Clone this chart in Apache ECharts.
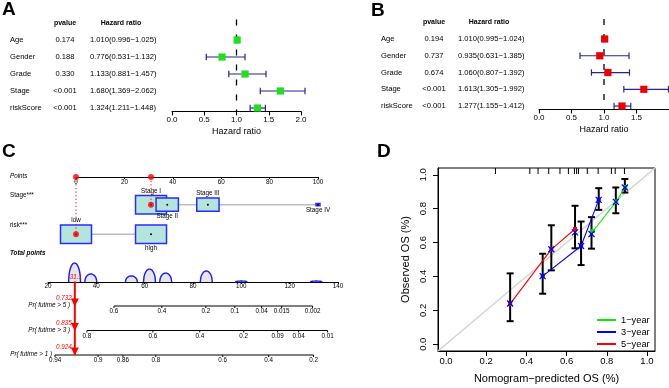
<!DOCTYPE html>
<html><head><meta charset="utf-8">
<script src="https://cdn.jsdelivr.net/npm/echarts@6/dist/echarts.min.js"></script>
<style>html,body{margin:0;padding:0;background:#fff}#c{width:669px;height:388px}</style>
</head><body><div id="c"></div>
<script>
// ================= DATA =================
// Panel A (univariate) / B (multivariate) forest plots
const forestVars = ['Age', 'Gender', 'Grade', 'Stage', 'riskScore'];
const uniP  = ['0.174', '0.188', '0.330', '<0.001', '<0.001'];
const uniHR = [1.010, 0.776, 1.133, 1.680, 1.324];
const uniLo = [0.996, 0.531, 0.881, 1.369, 1.211];
const uniHi = [1.025, 1.132, 1.457, 2.062, 1.448];
const multiP  = ['0.194', '0.737', '0.674', '<0.001', '<0.001'];
const multiHR = [1.010, 0.935, 1.060, 1.613, 1.277];
const multiLo = [0.995, 0.631, 0.807, 1.305, 1.155];
const multiHi = [1.024, 1.385, 1.392, 1.992, 1.412];

// Panel C nomogram
const stageLevels = ['Stage I', 'Stage II', 'Stage III', 'Stage IV'];
const stagePoints = [31, 37.7, 54.5, 100];
const stageFreq   = [1.0, 0.72, 0.72, 0.13];
const riskLevels  = ['low', 'high'];
const riskPoints  = [0, 31];
const riskFreq    = [1.0, 1.0];
const densityAt   = [31, 37.7, 54.5, 62, 68.7, 85.5, 100, 131];
const densityVal  = [1.0, 0.42, 0.32, 0.68, 0.47, 0.58, 0.05, 0.05];
const pr5Labels = ['0.6', '0.4', '0.2', '0.1', '0.04', '0.015', '0.002'];
const pr5Points = [47.3, 67.1, 85.3, 97.3, 108.4, 116.7, 129.5];
const pr3Labels = ['0.8', '0.6', '0.4', '0.2', '0.09', '0.04', '0.01'];
const pr3Points = [36.1, 63.4, 82.8, 101, 115, 123.7, 135.7];
const pr1Labels = ['0.94', '0.9', '0.86', '0.8', '0.6', '0.4', '0.2'];
const pr1Points = [22.9, 40.7, 51, 64.6, 92.3, 111.3, 129.9];
const prRowNames = ['Pr( futime > 5 )', 'Pr( futime > 3 )', 'Pr( futime > 1 )'];
const patientStage = 0;      // Stage I
const patientRisk = 0;       // low
const patientTotal = 31.1;
const patientProbs = ['0.732', '0.835', '0.924'];

// Panel D calibration
const calNames = ['1\u2212year', '3\u2212year', '5\u2212year'];
const cal1Line = [[0.732, 0.668], [0.847, 0.842], [0.893, 0.928]];
const cal3Line = [[0.481, 0.402], [0.672, 0.580], [0.760, 0.852]];
const cal5Line = [[0.319, 0.238], [0.524, 0.560], [0.642, 0.680]];
const cal1Mark = [[0.724, 0.650], [0.845, 0.840], [0.890, 0.925]];
const cal3Mark = [[0.481, 0.402], [0.672, 0.580], [0.760, 0.852]];
const cal5Mark = [[0.319, 0.240], [0.524, 0.560], [0.642, 0.660]];
const cal1Lo = [0.564, 0.773, 0.895], cal1Hi = [0.750, 0.925, 0.975];
const cal3Lo = [0.298, 0.467, 0.793], cal3Hi = [0.534, 0.724, 0.921];
const cal5Lo = [0.136, 0.436, 0.566], cal5Hi = [0.418, 0.702, 0.817];
const rugX = [0.246, 0.417, 0.458, 0.511, 0.567, 0.609, 0.639, 0.650, 0.659, 0.703, 0.757, 0.823, 0.842, 0.888];
const calTicks = [0, 0.2, 0.4, 0.6, 0.8, 1.0];

// ================= LAYOUT / STYLE =================
const FONT = '"Liberation Sans", Arial, Helvetica, sans-serif';
const A_COLS = {name: 10, p: 65, hrHead: 121, hr: 90};
const B_COLS = {name: 46, p: 99, hrHead: 154, hr: 123};
const stageLabelPos = ['top', 'bottom', 'top', 'bottom'];
const riskLabelPos = ['top', 'bottom'];
const C_FS = 6.3;

function txt(t, font, fill, align, valign) {
  return {text: t, font: font, fill: fill || '#000',
    align: align || 'left', verticalAlign: valign || 'middle',
    textAlign: align || 'left', textVerticalAlign: valign || 'middle'};
}
const fmt = v => v.toFixed(3);

function tableItems(vars, pv, hr, lo, hi, col) {
  const items = [];
  items.push({v: [col.p, 0], t: 'pvalue', a: 'center', b: true});
  items.push({v: [col.hrHead, 0], t: 'Hazard ratio', a: 'center', b: true});
  vars.forEach((name, i) => {
    items.push({v: [col.name, i + 1], t: name, a: 'left'});
    items.push({v: [col.p, i + 1], t: pv[i], a: 'center'});
    items.push({v: [col.hr, i + 1], t: fmt(hr[i]) + '(' + fmt(lo[i]) + '\u2212' + fmt(hi[i]) + ')', a: 'left'});
  });
  return items;
}
function tableSeries(items, gi) {
  return {type: 'custom', xAxisIndex: gi, yAxisIndex: gi, silent: true,
    data: items.map(it => it.v),
    renderItem: (params, api) => {
      const it = items[params.dataIndex];
      const p = api.coord([api.value(0), api.value(1)]);
      return {type: 'text', x: p[0], y: p[1],
        style: txt(it.t, (it.b ? 'bold 7px ' : '7.6px ') + FONT, '#000', it.a, 'middle')};
    }};
}
function forestSeries(hr, lo, hi, gi, color) {
  return {type: 'custom', xAxisIndex: gi, yAxisIndex: gi, silent: true, z: 5,
    data: hr.map((h, i) => [h, lo[i], hi[i], i + 1]),
    renderItem: (params, api) => {
      const y = api.coord([0, api.value(3)])[1];
      const xl = api.coord([api.value(1), 0])[0];
      const xh = api.coord([api.value(2), 0])[0];
      const xe = api.coord([api.value(0), 0])[0];
      const lc = '#25258f', s = {stroke: lc, lineWidth: 1.2};
      return {type: 'group', children: [
        {type: 'line', shape: {x1: xl, y1: y, x2: xh, y2: y}, style: s},
        {type: 'line', shape: {x1: xl, y1: y - 3.2, x2: xl, y2: y + 3.2}, style: s},
        {type: 'line', shape: {x1: xh, y1: y - 3.2, x2: xh, y2: y + 3.2}, style: s},
        {type: 'rect', shape: {x: xe - 3.6, y: y - 3.6, width: 7.2, height: 7.2}, style: {fill: color}}
      ]};
    }};
}
function forestAxis(gi, showMax) {
  return {gridIndex: gi, type: 'value', min: 0, max: 2, interval: 0.5,
    name: 'Hazard ratio', nameLocation: 'middle', nameGap: 16,
    nameTextStyle: {fontFamily: FONT, fontSize: 9, color: '#000'},
    axisLine: {show: true, onZero: false, lineStyle: {color: '#000', width: 1.1}},
    axisTick: {show: true, length: 4, lineStyle: {color: '#000', width: 1.1}},
    axisLabel: {fontFamily: FONT, fontSize: 8, color: '#000', margin: 4, showMaxLabel: showMax,
      formatter: v => v.toFixed(1)},
    splitLine: {show: false}};
}
function hiddenX(gi, min, max) { return {gridIndex: gi, type: 'value', min: min, max: max, show: false, splitLine: {show: false}}; }
function hiddenY(gi, min, max, inv) { return {gridIndex: gi, type: 'value', min: min, max: max, inverse: !!inv, show: false, splitLine: {show: false}}; }

// nomogram boxes
function boxSeries(points, freq, labels, labelPos, row) {
  return {type: 'custom', xAxisIndex: 5, yAxisIndex: 5, silent: true, z: 4,
    data: points.map((p, i) => [p, row, freq[i]]),
    renderItem: (params, api) => {
      const i = params.dataIndex;
      const c = api.coord([api.value(0), api.value(1)]);
      const w = api.value(2) * 31, h = api.value(2) * 18.5;
      const ly = labelPos[i] === 'top' ? c[1] - h / 2 - 4.5 : c[1] + h / 2 + 4.8;
      return {type: 'group', children: [
        {type: 'rect', shape: {x: c[0] - w / 2, y: c[1] - h / 2, width: w, height: h},
          style: {fill: '#b3e5dc', stroke: '#2b2bff', lineWidth: 1.5}},
        {type: 'circle', shape: {cx: c[0], cy: c[1], r: 1}, style: {fill: '#000'}},
        {type: 'text', x: c[0], y: ly, style: txt(labels[i], C_FS + 'px ' + FONT, '#000', 'center', 'middle')}
      ]};
    }};
}

const prRows = [
  {labels: pr5Labels, pts: pr5Points, row: 1},
  {labels: pr3Labels, pts: pr3Points, row: 2},
  {labels: pr1Labels, pts: pr1Points, row: 3}
];
const prTickItems = [];
prRows.forEach(r => r.pts.forEach((p, i) => prTickItems.push({v: [p, r.row], t: r.labels[i]})));

function errSeries(marks, lo, hi) {
  return {type: 'custom', xAxisIndex: 8, yAxisIndex: 8, silent: true, z: 2,
    data: marks.map((m, i) => [m[0], lo[i], hi[i]]),
    renderItem: (params, api) => {
      const a = api.coord([api.value(0), api.value(1)]);
      const b = api.coord([api.value(0), api.value(2)]);
      const s = {stroke: '#000', lineWidth: 2};
      return {type: 'group', children: [
        {type: 'line', shape: {x1: a[0], y1: a[1], x2: b[0], y2: b[1]}, style: s},
        {type: 'line', shape: {x1: a[0] - 3.5, y1: a[1], x2: a[0] + 3.5, y2: a[1]}, style: s},
        {type: 'line', shape: {x1: b[0] - 3.5, y1: b[1], x2: b[0] + 3.5, y2: b[1]}, style: s}
      ]};
    }};
}
function xMarkSeries(marks) {
  return {type: 'custom', xAxisIndex: 8, yAxisIndex: 8, silent: true, z: 6,
    data: marks,
    renderItem: (params, api) => {
      const c = api.coord([api.value(0), api.value(1)]);
      const s = {stroke: '#0000ff', lineWidth: 1.3}, d = 3;
      return {type: 'group', children: [
        {type: 'line', shape: {x1: c[0] - d, y1: c[1] - d, x2: c[0] + d, y2: c[1] + d}, style: s},
        {type: 'line', shape: {x1: c[0] - d, y1: c[1] + d, x2: c[0] + d, y2: c[1] - d}, style: s}
      ]};
    }};
}
function calLine(name, data, color) {
  return {type: 'line', name: name, xAxisIndex: 8, yAxisIndex: 8, data: data, z: 4, silent: true,
    symbol: 'rect', symbolSize: 4, itemStyle: {color: color}, lineStyle: {color: color, width: 1.1}};
}

const option = {
  animation: false,
  backgroundColor: '#fff',
  grid: [
    {left: 0, top: 19.6, width: 170, height: 91.8},
    {left: 172, top: 19.6, width: 129, height: 91.8},
    {left: 335, top: 18.9, width: 200, height: 90.5},
    {left: 539, top: 18.9, width: 130, height: 90.5},
    {left: 76, top: 170, width: 242, height: 7},
    {left: 76, top: 175, width: 242, height: 89},
    {left: 48, top: 262, width: 290, height: 20},
    {left: 48, top: 281.5, width: 290, height: 98},
    {left: 438, top: 168, width: 217, height: 183, show: true, borderColor: '#000', borderWidth: 1}
  ],
  xAxis: [
    hiddenX(0, 0, 170),
    forestAxis(1, true),
    hiddenX(2, 0, 200),
    forestAxis(3, false),
    {gridIndex: 4, type: 'value', min: 0, max: 100, interval: 20,
      axisLine: {show: true, onZero: false, lineStyle: {color: '#000', width: 1}},
      axisTick: {show: true, length: 2, lineStyle: {color: '#000'}},
      axisLabel: {fontFamily: FONT, fontSize: C_FS, color: '#000', margin: 2.5},
      splitLine: {show: false}},
    hiddenX(5, 0, 100),
    {gridIndex: 6, type: 'value', min: 20, max: 140, interval: 20,
      axisLine: {show: true, onZero: false, lineStyle: {color: '#000', width: 1}},
      axisTick: {show: true, length: 2, lineStyle: {color: '#000'}},
      axisLabel: {fontFamily: FONT, fontSize: C_FS, color: '#000', margin: 1.5},
      splitLine: {show: false}},
    hiddenX(7, 20, 140),
    {gridIndex: 8, type: 'value', min: -0.04, max: 1.04,
      name: 'Nomogram\u2212predicted OS (%)', nameLocation: 'middle', nameGap: 22,
      nameTextStyle: {fontFamily: FONT, fontSize: 11, color: '#000'},
      axisLine: {show: true, onZero: false, lineStyle: {color: '#000', width: 1}},
      axisTick: {show: true, length: 5, customValues: calTicks, lineStyle: {color: '#000'}},
      axisLabel: {fontFamily: FONT, fontSize: 9.5, color: '#000', margin: 5, customValues: calTicks,
        formatter: v => v.toFixed(1)},
      splitLine: {show: false}}
  ],
  yAxis: [
    hiddenY(0, -0.2, 5.2, true),
    hiddenY(1, -0.2, 5.2, true),
    hiddenY(2, -0.2, 5.2, true),
    hiddenY(3, -0.2, 5.2, true),
    hiddenY(4, 0, 1),
    hiddenY(5, 0, 3, true),
    hiddenY(6, 0, 1),
    hiddenY(7, 0, 4, true),
    {gridIndex: 8, type: 'value', min: -0.04, max: 1.04,
      name: 'Observed OS (%)', nameLocation: 'middle', nameGap: 27,
      nameTextStyle: {fontFamily: FONT, fontSize: 11, color: '#000'},
      axisLine: {show: true, onZero: false, lineStyle: {color: '#000', width: 1}},
      axisTick: {show: true, length: 5, customValues: calTicks, lineStyle: {color: '#000'}},
      axisLabel: {fontFamily: FONT, fontSize: 9.5, color: '#000', margin: 10, rotate: 90, customValues: calTicks,
        formatter: v => v.toFixed(1)},
      splitLine: {show: false}}
  ],
  legend: {orient: 'vertical', left: 592, top: 309, itemWidth: 19, itemHeight: 2, itemGap: 0,
    icon: 'rect', data: calNames, selectedMode: false,
    textStyle: {fontFamily: FONT, fontSize: 9.3, color: '#000', lineHeight: 12}},
  graphic: {elements: [
    {type: 'text', x: 2, y: 10, style: txt('A', 'bold 19px ' + FONT, '#000', 'left', 'middle')},
    {type: 'text', x: 371, y: 11, style: txt('B', 'bold 19px ' + FONT, '#000', 'left', 'middle')},
    {type: 'text', x: 2, y: 152, style: txt('C', 'bold 19px ' + FONT, '#000', 'left', 'middle')},
    {type: 'text', x: 377, y: 152, style: txt('D', 'bold 19px ' + FONT, '#000', 'left', 'middle')},
    {type: 'text', x: 10, y: 176.5, style: txt('Points', 'italic ' + C_FS + 'px ' + FONT, '#000', 'left', 'middle')},
    {type: 'text', x: 10, y: 195, style: txt('Stage***', C_FS + 'px ' + FONT, '#000', 'left', 'middle')},
    {type: 'text', x: 10, y: 225, style: txt('risk***', C_FS + 'px ' + FONT, '#000', 'left', 'middle')},
    {type: 'text', x: 10, y: 253, style: txt('Total points', 'italic bold ' + C_FS + 'px ' + FONT, '#000', 'left', 'middle')},
    {type: 'text', x: 70, y: 305, style: txt(prRowNames[0], 'italic ' + C_FS + 'px ' + FONT, '#000', 'right', 'middle')},
    {type: 'text', x: 70, y: 330.5, style: txt(prRowNames[1], 'italic ' + C_FS + 'px ' + FONT, '#000', 'right', 'middle')},
    {type: 'text', x: 52, y: 354, style: txt(prRowNames[2], 'italic ' + C_FS + 'px ' + FONT, '#000', 'right', 'middle')}
  ]},
  series: [
    // ---- A ----
    tableSeries(tableItems(forestVars, uniP, uniHR, uniLo, uniHi, A_COLS), 0),
    {type: 'line', xAxisIndex: 1, yAxisIndex: 1, data: [[1, -0.2], [1, 5.2]], symbol: 'none', silent: true,
      lineStyle: {color: '#000', width: 1.3, type: [6, 9]}},
    forestSeries(uniHR, uniLo, uniHi, 1, '#1fe01f'),
    // ---- B ----
    tableSeries(tableItems(forestVars, multiP, multiHR, multiLo, multiHi, B_COLS), 2),
    {type: 'line', xAxisIndex: 3, yAxisIndex: 3, data: [[1, -0.2], [1, 5.2]], symbol: 'none', silent: true,
      lineStyle: {color: '#000', width: 1.3, type: [6, 9]}},
    forestSeries(multiHR, multiLo, multiHi, 3, '#ee0000'),
    // ---- C: points axis red dots ----
    {type: 'scatter', xAxisIndex: 4, yAxisIndex: 4, clip: false, silent: true, z: 6,
      data: [[riskPoints[patientRisk], 0], [stagePoints[patientStage], 0]],
      symbolSize: 6, itemStyle: {color: '#ff0000'}},
    // connectors
    {type: 'line', xAxisIndex: 5, yAxisIndex: 5, silent: true, symbol: 'none', z: 2,
      data: [[Math.min(...stagePoints), 1], [Math.max(...stagePoints), 1]], lineStyle: {color: '#bdbdbd', width: 1.5}},
    {type: 'line', xAxisIndex: 5, yAxisIndex: 5, silent: true, symbol: 'none', z: 2,
      data: [[Math.min(...riskPoints), 2], [Math.max(...riskPoints), 2]], lineStyle: {color: '#bdbdbd', width: 1.5}},
    boxSeries(stagePoints, stageFreq, stageLevels, stageLabelPos, 1),
    boxSeries(riskPoints, riskFreq, riskLevels, riskLabelPos, 2),
    // red dotted lines
    {type: 'line', xAxisIndex: 5, yAxisIndex: 5, silent: true, symbol: 'none', z: 7,
      data: [[stagePoints[patientStage], 0.07], [stagePoints[patientStage], 1]], lineStyle: {color: '#ff0000', width: 1, type: [1.2, 2.4]}},
    {type: 'line', xAxisIndex: 5, yAxisIndex: 5, silent: true, symbol: 'none', z: 7,
      data: [[riskPoints[patientRisk], 0.07], [riskPoints[patientRisk], 2]], lineStyle: {color: '#ff0000', width: 1, type: [1.2, 2.4]}},
    {type: 'scatter', xAxisIndex: 5, yAxisIndex: 5, clip: false, silent: true, z: 8,
      data: [[stagePoints[patientStage], 1], [riskPoints[patientRisk], 2]], symbolSize: 6, itemStyle: {color: '#ff0000'}},
    // density bumps
    {type: 'custom', xAxisIndex: 6, yAxisIndex: 6, silent: true, z: 3,
      data: densityAt.map((d, i) => [d, densityVal[i]]),
      renderItem: (params, api) => {
        const base = api.coord([api.value(0), 0]);
        const h = api.value(1) * 19, hw = 6;
        const pts = [];
        for (let k = 0; k <= 24; k++) {
          const t = -1 + 2 * k / 24;
          pts.push([base[0] + hw * t, base[1] - h * Math.sqrt(Math.max(0, 1 - t * t))]);
        }
        return {type: 'group', children: [
          {type: 'polygon', shape: {points: pts}, style: {fill: '#e6e6e6'}},
          {type: 'polyline', shape: {points: pts}, style: {stroke: '#1a1aff', lineWidth: 1.4, fill: null}}
        ]};
      }},
    // Pr axis lines
    ...prRows.map(r => ({type: 'line', xAxisIndex: 7, yAxisIndex: 7, silent: true, symbol: 'none', z: 2,
      data: [[r.pts[0], r.row], [r.pts[r.pts.length - 1], r.row]], lineStyle: {color: '#000', width: 1}})),
    // Pr ticks and labels
    {type: 'custom', xAxisIndex: 7, yAxisIndex: 7, silent: true, z: 3,
      data: prTickItems.map(it => it.v),
      renderItem: (params, api) => {
        const it = prTickItems[params.dataIndex];
        const c = api.coord([api.value(0), api.value(1)]);
        return {type: 'group', children: [
          {type: 'line', shape: {x1: c[0], y1: c[1], x2: c[0], y2: c[1] + 2}, style: {stroke: '#000', lineWidth: 1}},
          {type: 'text', x: c[0], y: c[1] + 5.5, style: txt(it.t, C_FS + 'px ' + FONT, '#000', 'center', 'middle')}
        ]};
      }},
    // patient red line
    {type: 'custom', xAxisIndex: 7, yAxisIndex: 7, silent: true, z: 9,
      data: [[patientTotal, 0]],
      renderItem: (params, api) => {
        const top = api.coord([api.value(0), 0]);
        const bot = api.coord([api.value(0), 3]);
        const ch = [
          {type: 'line', shape: {x1: top[0], y1: top[1], x2: bot[0], y2: bot[1]}, style: {stroke: '#ff0000', lineWidth: 2}},
          {type: 'text', x: top[0] + 1, y: top[1] - 4, style: txt(String(patientTotal), 'italic ' + C_FS + 'px ' + FONT, '#ff0000', 'center', 'middle')}
        ];
        [1, 2, 3].forEach((r, i) => {
          const p = api.coord([api.value(0), r]);
          ch.push({type: 'polygon', shape: {points: [[p[0] - 4, p[1] - 7.5], [p[0] + 4, p[1] - 7.5], [p[0], p[1] + 0.5]]}, style: {fill: '#ff0000'}});
          ch.push({type: 'text', x: p[0] - 3, y: p[1] - 7.5, style: txt(patientProbs[i], 'italic ' + C_FS + 'px ' + FONT, '#ff0000', 'right', 'middle')});
        });
        return {type: 'group', children: ch};
      }},
    // ---- D ----
    {type: 'line', xAxisIndex: 8, yAxisIndex: 8, silent: true, symbol: 'none', z: 1,
      data: [[-0.04, -0.04], [1.04, 1.04]], lineStyle: {color: '#d4d4d4', width: 1.5}},
    errSeries(cal1Mark, cal1Lo, cal1Hi),
    errSeries(cal3Mark, cal3Lo, cal3Hi),
    errSeries(cal5Mark, cal5Lo, cal5Hi),
    calLine(calNames[0], cal1Line, '#00ee00'),
    calLine(calNames[1], cal3Line, '#0000ff'),
    calLine(calNames[2], cal5Line, '#ff0000'),
    xMarkSeries(cal1Mark),
    xMarkSeries(cal3Mark),
    xMarkSeries(cal5Mark),
    {type: 'custom', xAxisIndex: 8, yAxisIndex: 8, silent: true, z: 3,
      data: rugX.map(x => [x, 1.04]),
      renderItem: (params, api) => {
        const c = api.coord([api.value(0), api.value(1)]);
        return {type: 'line', shape: {x1: c[0], y1: c[1], x2: c[0], y2: c[1] + 6}, style: {stroke: '#000', lineWidth: 1}};
      }}
  ]
};

const chart = echarts.init(document.getElementById('c'), null, {renderer: 'canvas', width: 669, height: 388});
chart.setOption(option);
</script>
</body></html>
